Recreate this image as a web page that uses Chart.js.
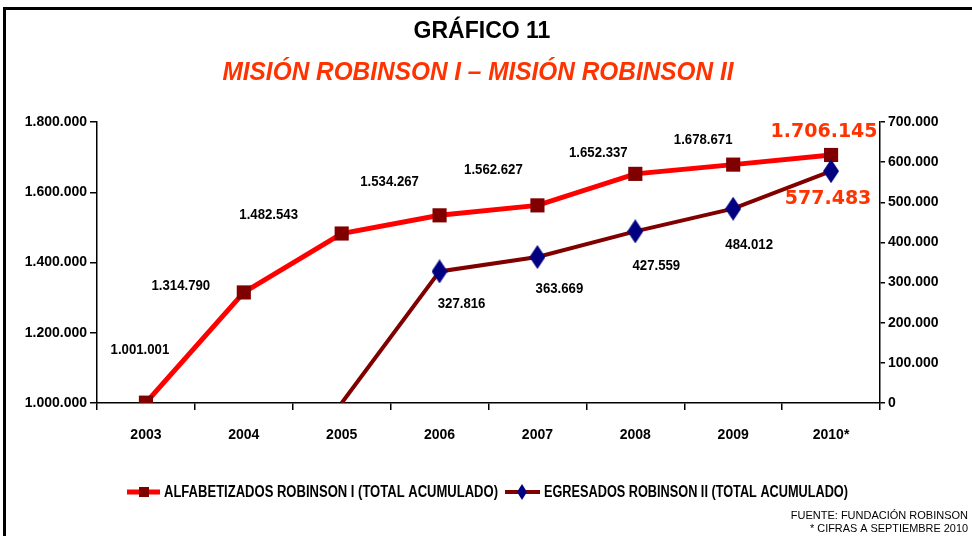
<!DOCTYPE html>
<html>
<head>
<meta charset="utf-8">
<script src="https://cdn.jsdelivr.net/npm/chart.js@4.4.1/dist/chart.umd.min.js"></script>
<style>
    html, body { margin: 0; padding: 0; background: #fff; }
    #wrap { position: relative; width: 972px; height: 536px; overflow: hidden; }
    #frame { position: absolute; left: 3px; top: 7px; width: 990px; height: 560px;
             border-left: 3px solid #000; border-top: 3px solid #000; box-sizing: border-box; }
    canvas { position: absolute; left: 0; top: 0; }
</style>
</head>
<body>
<div id="wrap">
    <div id="frame"></div>
    <canvas id="chart" width="972" height="536"></canvas>
</div>
<script>
// Data
const YEARS = ['2003', '2004', '2005', '2006', '2007', '2008', '2009', '2010*'];
const ALFABETIZADOS = [1001001, 1314790, 1482543, 1534267, 1562627, 1652337, 1678671, 1706145];
const EGRESADOS = [null, null, 0, 327816, 363669, 427559, 484012, 577483];
const LEFT_TICKS = [1000000, 1200000, 1400000, 1600000, 1800000];
const RIGHT_TICKS = [0, 100000, 200000, 300000, 400000, 500000, 600000, 700000];

// Label placement (pixel offsets from each point)
const ALFA_LABEL_OFFSETS = [[-6, -53], [-63, -7], [-73, -19], [-50, -33], [-44, -36], [-37, -21], [-30, -25], [-7, -23]];
const EGRE_LABEL_OFFSETS = [null, null, null, [22, 32], [22, 32], [21, 34], [16, 36], [-3, 28]];

const SANS = "'Liberation Sans', Arial, sans-serif";
const RED = '#ff0000';
const MAROON = '#800000';
const NAVY = '#000080';
const ORANGE = '#ff3300';

function fmt(v) {
    return String(v).replace(/\B(?=(\d{3})+(?!\d))/g, '.');
}

function makeDiamond(w, h, color) {
    const c = document.createElement('canvas');
    c.width = w;
    c.height = h;
    const g = c.getContext('2d');
    g.fillStyle = color;
    g.beginPath();
    g.moveTo(w / 2, 0);
    g.lineTo(w, h / 2);
    g.lineTo(w / 2, h);
    g.lineTo(0, h / 2);
    g.closePath();
    g.fill();
    return c;
}

const diamond = makeDiamond(16, 24, NAVY);
const smallDiamond = makeDiamond(10, 16, NAVY);

// Value labels next to points (squeezed a little to look like a narrow face)
const valueLabels = {
    id: 'valueLabels',
    afterDatasetsDraw(chart) {
        const ctx = chart.ctx;
        ctx.save();
        ctx.textAlign = 'center';
        ctx.textBaseline = 'middle';
        const sets = [[0, ALFABETIZADOS, ALFA_LABEL_OFFSETS], [1, EGRESADOS, EGRE_LABEL_OFFSETS]];
        sets.forEach(([idx, values, offsets]) => {
            const meta = chart.getDatasetMeta(idx);
            meta.data.forEach((pt, j) => {
                const off = offsets[j];
                if (!off || values[j] === null) return;
                const text = fmt(values[j]);
                if (j === values.length - 1) {
                    ctx.fillStyle = ORANGE;
                    ctx.font = "bold 19px 'DejaVu Sans', sans-serif";
                    ctx.fillText(text, pt.x + off[0], pt.y + off[1]);
                } else {
                    ctx.fillStyle = '#000';
                    ctx.font = `bold 15px ${SANS}`;
                    ctx.fillText(text, pt.x + off[0], pt.y + off[1], ctx.measureText(text).width * 0.88);
                }
            });
        });
        ctx.restore();
    }
};

// Titles, legend and footnotes
const decorations = {
    id: 'decorations',
    afterDraw(chart) {
        const ctx = chart.ctx;
        ctx.save();
        ctx.textAlign = 'center';
        ctx.textBaseline = 'middle';
        ctx.fillStyle = '#000';
        ctx.font = `bold 23px ${SANS}`;
        ctx.fillText('GRÁFICO 11', 482, 32, 139);
        ctx.fillStyle = ORANGE;
        ctx.font = `italic bold 25px ${SANS}`;
        ctx.fillText('MISIÓN ROBINSON I – MISIÓN ROBINSON II', 478, 73, 511);

        // legend
        const ly = 492;
        ctx.lineWidth = 5;
        ctx.strokeStyle = RED;
        ctx.beginPath(); ctx.moveTo(127, ly); ctx.lineTo(160, ly); ctx.stroke();
        ctx.fillStyle = MAROON;
        ctx.fillRect(139, ly - 5, 10, 10);
        ctx.lineWidth = 4;
        ctx.strokeStyle = MAROON;
        ctx.beginPath(); ctx.moveTo(505, ly); ctx.lineTo(540, ly); ctx.stroke();
        ctx.drawImage(smallDiamond, 522 - 5, ly - 8);

        ctx.textAlign = 'left';
        ctx.fillStyle = '#000';
        ctx.font = `bold 16px ${SANS}`;
        ctx.fillText('ALFABETIZADOS ROBINSON I (TOTAL ACUMULADO)', 164, ly + 1, 334);
        ctx.fillText('EGRESADOS ROBINSON II (TOTAL ACUMULADO)', 544, ly + 1, 304);

        // footnotes
        ctx.textAlign = 'right';
        ctx.font = `11px ${SANS}`;
        ctx.fillText('FUENTE: FUNDACIÓN ROBINSON', 968, 516, 180);
        ctx.fillText('* CIFRAS A SEPTIEMBRE 2010', 968, 529, 158);
        ctx.restore();
    }
};

const tickFont = { family: SANS, size: 14, weight: 'bold' };

const chart = new Chart(document.getElementById('chart').getContext('2d'), {
    type: 'line',
    data: {
        labels: YEARS,
        datasets: [{
            label: 'ALFABETIZADOS ROBINSON I (TOTAL ACUMULADO)',
            data: ALFABETIZADOS,
            yAxisID: 'y',
            borderColor: RED,
            borderWidth: 5,
            backgroundColor: MAROON,
            pointStyle: 'rect',
            pointRadius: 10,
            pointBackgroundColor: MAROON,
            pointBorderColor: MAROON,
            pointBorderWidth: 0,
            tension: 0,
            order: 1
        }, {
            label: 'EGRESADOS ROBINSON II (TOTAL ACUMULADO)',
            data: EGRESADOS,
            yAxisID: 'y2',
            borderColor: MAROON,
            borderWidth: 4,
            backgroundColor: NAVY,
            pointStyle: diamond,
            pointRadius: EGRESADOS.map(v => (v ? 8 : 0)),
            tension: 0,
            order: 0
        }]
    },
    options: {
        responsive: false,
        animation: false,
        events: [],
        layout: { padding: { top: 122, bottom: 93, left: 0, right: 0 } },
        plugins: {
            legend: { display: false },
            tooltip: { enabled: false }
        },
        scales: {
            x: {
                offset: true,
                grid: { offset: true, drawOnChartArea: false, drawTicks: true, tickLength: 7, color: '#000', lineWidth: 1.5 },
                border: { color: '#000', width: 1.5 },
                ticks: { color: '#000', font: tickFont, padding: 17 },
                afterFit: s => { s.height = 40; }
            },
            y: {
                position: 'left',
                min: LEFT_TICKS[0],
                max: LEFT_TICKS[LEFT_TICKS.length - 1],
                afterBuildTicks: s => { s.ticks = LEFT_TICKS.map(v => ({ value: v })); },
                grid: { drawOnChartArea: false, drawTicks: true, tickLength: 7, color: '#000', lineWidth: 1.5 },
                border: { color: '#000', width: 1.5 },
                ticks: { color: '#000', font: tickFont, padding: 3, callback: v => fmt(v) },
                afterFit: s => { s.width = 97; }
            },
            y2: {
                position: 'right',
                min: RIGHT_TICKS[0],
                max: RIGHT_TICKS[RIGHT_TICKS.length - 1],
                afterBuildTicks: s => { s.ticks = RIGHT_TICKS.map(v => ({ value: v })); },
                grid: { drawOnChartArea: false, drawTicks: true, tickLength: 5, color: '#000', lineWidth: 1.5 },
                border: { color: '#000', width: 1.5 },
                ticks: { color: '#000', font: tickFont, padding: 3, callback: v => fmt(v) },
                afterFit: s => { s.width = 92; }
            }
        }
    },
    plugins: [valueLabels, decorations]
});
</script>
</body>
</html>
